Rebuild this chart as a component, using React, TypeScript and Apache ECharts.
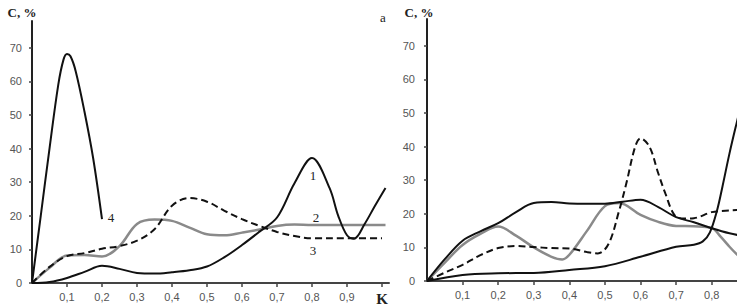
import React, { useEffect, useRef } from "react";
import * as echarts from "echarts";

// ---- Panel a (left) ----
const K_L1 = [0, 0.05, 0.1, 0.15, 0.2, 0.25, 0.3, 0.35, 0.4, 0.45, 0.5, 0.55, 0.6, 0.65, 0.7, 0.75, 0.8, 0.85, 0.875, 0.9, 0.92, 0.95, 0.98, 1.01];
const C_L1 = [0, 0.3, 1.5, 3.3, 5.1, 4.2, 3.0, 2.8, 3.2, 3.8, 4.9, 7.7, 11.3, 15.3, 19.5, 29.7, 37.2, 28.3, 20, 14.2, 13.2, 17.5, 23, 28.3];

const K_L2 = [0, 0.05, 0.1, 0.15, 0.2, 0.25, 0.3, 0.35, 0.4, 0.45, 0.5, 0.55, 0.6, 0.65, 0.7, 0.75, 0.8, 0.9, 1.0, 1.01];
const C_L2 = [0, 4.5, 8.2, 8.3, 7.9, 11, 17.6, 18.9, 18.5, 16.5, 14.5, 14.2, 15, 15.9, 17, 17.4, 17.3, 17.3, 17.3, 17.3];

const K_L3 = [0, 0.05, 0.1, 0.15, 0.2, 0.25, 0.3, 0.35, 0.4, 0.45, 0.5, 0.55, 0.6, 0.65, 0.7, 0.75, 0.8, 0.9, 1.0];
const C_L3 = [0, 4.8, 8, 8.9, 10.2, 11, 12.6, 16, 23, 25.3, 24.2, 21.5, 19, 17, 15.2, 14, 13.3, 13.3, 13.3];

const K_L4 = [0, 0.025, 0.05, 0.075, 0.09, 0.1, 0.11, 0.125, 0.15, 0.175, 0.2];
const C_L4 = [0, 20, 40, 59, 66.5, 68.2, 67.5, 63, 51, 37, 19];

// ---- Panel b (right) ----
const K_RA = [0, 0.05, 0.1, 0.15, 0.2, 0.25, 0.3, 0.35, 0.4, 0.45, 0.5, 0.55, 0.6, 0.65, 0.7, 0.75, 0.8, 0.85, 0.9, 0.95, 1.0];
const C_RA = [0, 6.5, 12, 14.8, 17.2, 20.5, 23.2, 23.5, 23.1, 23, 23, 23.6, 24.2, 22, 19, 17.5, 15.7, 14.2, 13.2, 12.5, 12];

const K_RB = [0, 0.05, 0.1, 0.15, 0.2, 0.25, 0.3, 0.35, 0.38, 0.4, 0.45, 0.5, 0.54, 0.6, 0.65, 0.7, 0.75, 0.8, 0.825, 0.85, 0.87, 0.9];
const C_RB = [0, 5.5, 10.7, 14, 16.2, 13.5, 10, 7.2, 6.4, 7.8, 15, 22.3, 23.2, 19.7, 17.6, 16.4, 16.3, 15.8, 13.2, 10.2, 8, 5];

const K_RC = [0, 0.05, 0.1, 0.15, 0.2, 0.25, 0.3, 0.35, 0.4, 0.45, 0.48, 0.51, 0.54, 0.56, 0.585, 0.6, 0.625, 0.65, 0.67, 0.695, 0.72, 0.75, 0.8, 0.85, 0.9];
const C_RC = [0, 2.5, 4.8, 7.7, 9.8, 10.4, 10.1, 9.8, 9.7, 8.6, 8.2, 11, 21, 29, 40, 42.5, 40, 32, 26, 19.7, 18.6, 18.7, 20.5, 21, 21.2];

const K_RD = [0, 0.1, 0.2, 0.3, 0.4, 0.5, 0.6, 0.7, 0.75, 0.775, 0.795, 0.815, 0.83, 0.85, 0.87, 0.9];
const C_RD = [0, 1.8, 2.3, 2.4, 3.3, 4.4, 7.2, 10.2, 10.8, 11.8, 14.5, 21, 28, 38, 47, 60];

const X_TICKS = [0.1, 0.2, 0.3, 0.4, 0.5, 0.6, 0.7, 0.8, 0.9, 1.0];
const X_LABELS_RIGHT = [0.1, 0.2, 0.3, 0.4, 0.5, 0.6, 0.7, 0.8];
const Y_TICKS = [0, 10, 20, 30, 40, 50, 60, 70];

const pairs = (xs: number[], ys: number[]) => xs.map((x, i) => [x, ys[i]]);

const BLACK = "#111";
const GRAY = "#8a8a8a";
const LABEL_FONT = "'Liberation Sans', Arial, sans-serif";
const SERIF = "'Liberation Serif', 'Times New Roman', serif";

function makeX(gridIndex: number, labels: number[]) {
  return {
    type: "value",
    gridIndex,
    min: 0,
    max: 1.02,
    splitLine: { show: false },
    axisLine: { show: true, lineStyle: { color: "#444", width: 2 } },
    axisTick: {
      show: true,
      customValues: X_TICKS,
      length: 4,
      lineStyle: { color: "#444", width: 1.5 },
    },
    axisLabel: {
      customValues: labels,
      margin: 8,
      color: "#555",
      fontSize: 11,
      fontFamily: LABEL_FONT,
      formatter: (v: number) => (Math.abs(v - 1) < 1e-6 ? "{k|K}" : v.toFixed(1).replace(".", ",")),
      rich: {
        k: { fontFamily: SERIF, fontWeight: "bold", fontSize: 15, color: "#222" },
      },
    },
  };
}

function makeY(gridIndex: number, margin: number) {
  return {
    type: "value",
    gridIndex,
    min: 0,
    max: 78,
    splitLine: { show: false },
    axisLine: { show: true, lineStyle: { color: "#222", width: 2 } },
    axisTick: {
      show: true,
      customValues: Y_TICKS,
      length: 3,
      lineStyle: { color: "#444", width: 1.5 },
    },
    axisLabel: {
      customValues: Y_TICKS,
      margin,
      color: "#555",
      fontSize: 11,
      fontFamily: LABEL_FONT,
    },
  };
}

function line(xs: number[], ys: number[], color: string, width: number, axis: number, dashed = false) {
  return {
    type: "line",
    xAxisIndex: axis,
    yAxisIndex: axis,
    data: pairs(xs, ys),
    smooth: 0.35,
    symbol: "none",
    lineStyle: dashed
      ? { color, width, type: [7, 4] }
      : { color, width },
    silent: true,
  };
}

export default function App() {
  const ref = useRef<HTMLDivElement>(null);
  useEffect(() => {
    if (!ref.current) return;
    const chart = echarts.init(ref.current, undefined, { renderer: "svg" });
    const txt = (text: string, x: number, y: number, size: number, bold = false, color = "#222") => ({
      type: "text",
      x,
      y,
      style: {
        text,
        fill: color,
        font: `${bold ? "bold " : ""}${size}px ${SERIF}`,
        textAlign: "center",
        textVerticalAlign: "middle",
      },
      silent: true,
    });
    chart.setOption({
      animation: false,
      backgroundColor: "#fff",
      grid: [
        { left: 32, top: 21, width: 357, height: 262, outerBoundsMode: "none", containLabel: false },
        { left: 427, top: 19, width: 363, height: 262, outerBoundsMode: "none", containLabel: false },
      ],
      xAxis: [makeX(0, X_TICKS), makeX(1, X_LABELS_RIGHT)],
      yAxis: [makeY(0, 10), makeY(1, 12)],
      series: [
        line(K_L2, C_L2, GRAY, 2.5, 0),
        line(K_L3, C_L3, BLACK, 2, 0, true),
        line(K_L1, C_L1, BLACK, 2, 0),
        line(K_L4, C_L4, BLACK, 2, 0),
        line(K_RB, C_RB, GRAY, 2.5, 1),
        line(K_RC, C_RC, BLACK, 2, 1, true),
        line(K_RA, C_RA, BLACK, 2, 1),
        line(K_RD, C_RD, BLACK, 2, 1),
      ],
      graphic: [
        txt("C, %", 22, 12, 13, true),
        txt("a", 383, 17, 13),
        txt("C, %", 419, 12, 13, true),
        txt("1", 313, 175, 13),
        txt("2", 316, 217, 13),
        txt("3", 313, 250, 13),
        txt("4", 111, 217, 13),
      ],
    });
    return () => chart.dispose();
  }, []);
  return (
    <div
      ref={ref}
      style={{ position: "fixed", left: 0, top: 0, width: 737, height: 307, overflow: "hidden" }}
    />
  );
}
